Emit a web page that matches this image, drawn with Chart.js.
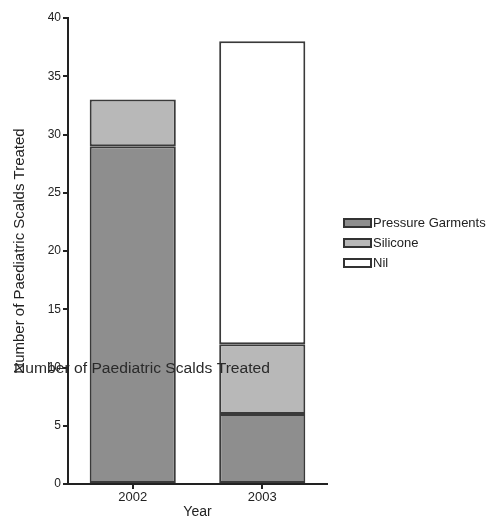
<!DOCTYPE html>
<html lang="en">
<head>
<meta charset="UTF-8">
<title>Paediatric Scalds Treated</title>
<script src="https://cdn.jsdelivr.net/npm/chart.js@4.4.0/dist/chart.umd.min.js"></script>
<style>
    html, body { margin: 0; padding: 0; background: #fff; }
    #wrap { width: 493px; height: 521px; position: relative; }
</style>
</head>
<body>
<div id="wrap"><canvas id="scalds"></canvas></div>
<script>
// Data
const years = ['2002', '2003'];
const pressureGarments = [29, 6];
const silicone = [4, 6];
const nil = [0, 26];
const yTicks = [0, 5, 10, 15, 20, 25, 30, 35, 40];

const axisTitle = 'Number of Paediatric Scalds Treated';
const fontFamily = "'Liberation Sans', Arial, sans-serif";
const ink = '#222';

// legend drawn at right of the plot, like the original figure
const sideLegend = {
    id: 'sideLegend',
    afterDraw(chart) {
        const ctx = chart.ctx;
        ctx.save();
        ctx.font = '13px ' + fontFamily;
        ctx.textBaseline = 'middle';
        chart.data.datasets.forEach((ds, i) => {
            const cy = 223 + i * 20;
            ctx.fillStyle = ds.backgroundColor;
            ctx.fillRect(344, cy - 4, 27, 8);
            ctx.strokeStyle = '#333';
            ctx.lineWidth = 2;
            ctx.strokeRect(344, cy - 4, 27, 8);
            ctx.fillStyle = ink;
            ctx.fillText(ds.label, 373, cy);
        });
        ctx.restore();
    }
};

// the stray horizontal copy of the axis title seen in the original
const strayTitle = {
    id: 'strayTitle',
    afterDraw(chart) {
        const ctx = chart.ctx;
        ctx.save();
        ctx.font = '14px ' + fontFamily;
        ctx.textBaseline = 'middle';
        ctx.fillStyle = '#2a2a2a';
        const w = ctx.measureText(axisTitle).width;
        ctx.translate(14, 369);
        ctx.scale(256 / w, 1);
        ctx.fillText(axisTitle, 0, 0);
        ctx.restore();
    }
};

const ctx = document.getElementById('scalds').getContext('2d');
new Chart(ctx, {
    type: 'bar',
    data: {
        labels: years,
        datasets: [
            { label: 'Pressure Garments', data: pressureGarments, backgroundColor: '#8e8e8e' },
            { label: 'Silicone', data: silicone, backgroundColor: '#b8b8b8' },
            { label: 'Nil', data: nil, backgroundColor: '#ffffff' }
        ]
    },
    options: {
        responsive: true,
        maintainAspectRatio: false,
        animation: false,
        events: [],
        datasets: {
            bar: {
                borderColor: '#3a3a3a',
                borderWidth: 2,
                borderSkipped: false,
                barPercentage: 0.665,
                categoryPercentage: 1
            }
        },
        layout: { padding: { top: 18, right: 166, left: 0, bottom: 0 } },
        plugins: {
            legend: { display: false },
            tooltip: { enabled: false }
        },
        scales: {
            x: {
                stacked: true,
                afterFit: (s) => { s.height = 37; },
                border: { display: true, color: ink, width: 2 },
                grid: { offset: false, drawOnChartArea: false, drawTicks: true, tickLength: 5, tickColor: ink, lineWidth: 2 },
                ticks: { color: ink, font: { family: fontFamily, size: 13 }, padding: 1 },
                title: { display: true, text: 'Year', color: ink, font: { family: fontFamily, size: 14 }, padding: { top: 0, bottom: 0 } }
            },
            y: {
                stacked: true,
                min: 0,
                max: 40,
                afterFit: (s) => { s.width = 68; },
                afterBuildTicks: (s) => { s.ticks = yTicks.map(v => ({ value: v })); },
                border: { display: true, color: ink, width: 2 },
                grid: { drawOnChartArea: false, drawTicks: true, tickLength: 5, tickColor: ink, lineWidth: 2 },
                ticks: { color: ink, font: { family: fontFamily, size: 12 }, padding: 2 },
                title: { display: true, text: axisTitle, color: ink, font: { family: fontFamily, size: 15 }, padding: { top: 11, bottom: 0 } }
            }
        }
    },
    plugins: [sideLegend, strayTitle]
});
</script>
</body>
</html>
